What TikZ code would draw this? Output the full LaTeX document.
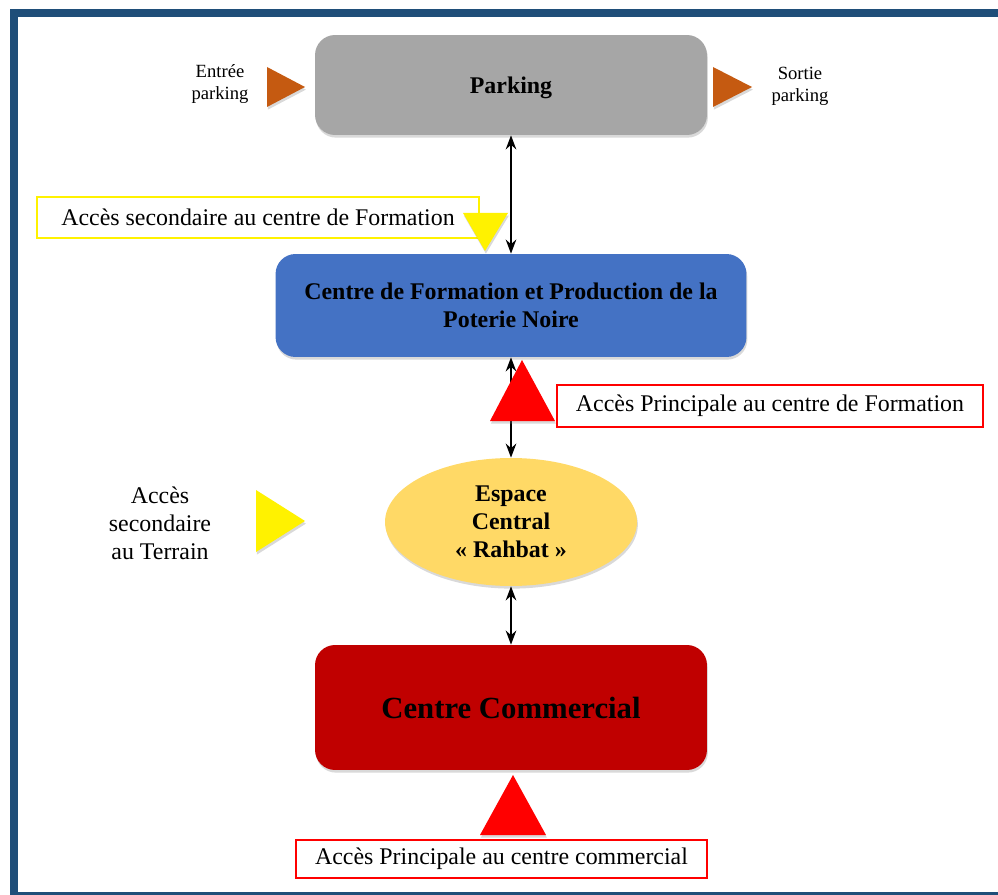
\documentclass[tikz,border=0pt]{standalone}
\usepackage{fontspec}
\setmainfont{Liberation Serif}
\usepackage{tikz}
\usetikzlibrary{arrows.meta, positioning, shapes.geometric, shadows}

\definecolor{frameblue}{RGB}{31,78,121}
\definecolor{parkgray}{RGB}{166,166,166}
\definecolor{formblue}{RGB}{68,114,196}
\definecolor{rahbatyellow}{RGB}{255,217,102}
\definecolor{commred}{RGB}{192,0,0}
\definecolor{accorange}{RGB}{197,90,17}

\begin{document}
\begin{tikzpicture}[x=0.02cm, y=-0.02cm, >={Stealth[length=8pt, width=6pt]},
  soft/.style={drop shadow={opacity=0.3, shadow xshift=0.5pt, shadow yshift=-1.5pt}},
  zone/.style={soft, rounded corners=0.4cm, align=center, inner sep=0pt,
    font=\bfseries\fontsize{13.6}{16.3}\selectfont},
  accbox/.style={draw, line width=0.8pt, minimum height=0.82cm, inner sep=0pt,
    font=\fontsize{13.6}{16.3}\selectfont},
  lbl/.style={align=center, font=\fontsize{13.6}{15.9}\selectfont},
  link/.style={<->, line width=1.1pt}]
  \useasboundingbox (0,0) rectangle (998,895);

  % frame
  \fill[frameblue] (10,9) rectangle (998,17);
  \fill[frameblue] (10,9) rectangle (18,895);
  \fill[frameblue] (10,892) rectangle (998,895);

  % zones
  \node[zone, fill=parkgray, minimum width=7.84cm, minimum height=2cm, text depth=0pt] (parking) at (511,85) {Parking};
  \node[zone, fill=formblue, minimum width=9.42cm, minimum height=2.06cm] (formation) at (511,305.5)
    {Centre de Formation et Production de la\\Poterie Noire};
  \node[soft, ellipse, fill=rahbatyellow, minimum width=5.04cm, minimum height=2.56cm, inner sep=0pt,
    align=center, font=\bfseries\fontsize{13.6}{15.9}\selectfont] (rahbat) at (511,522)
    {Espace\\Central\\« Rahbat »};
  \node[zone, fill=commred, minimum width=7.84cm, minimum height=2.5cm,
    font=\bfseries\fontsize{17.5}{20}\selectfont] (commercial) at (511,707.5) {Centre Commercial};

  \draw[link] (parking.south) -- (formation.north);
  \draw[link] (formation.south) -- (rahbat.north);
  \draw[link] (rahbat.south) -- (commercial.north);

  % acces
  \node[align=center, font=\fontsize{10.6}{12.5}\selectfont] (entree) at (220,84) {Entrée\\parking};
  \node[align=center, font=\fontsize{10.6}{12.5}\selectfont] (sortie) at (800,86) {Sortie\\parking};
  \fill[accorange, soft] (267,67) -- (267,107) -- (305,87) -- cycle;
  \fill[accorange, soft] (713,67) -- (713,107) -- (752,87) -- cycle;

  \node[accbox, draw=yellow, minimum width=8.84cm] (secFormation) at (258,217.5)
    {Accès secondaire au centre de Formation};
  \fill[yellow, soft] (463,213) -- (508,213) -- (485,251) -- cycle;

  \node[accbox, draw=red, minimum width=8.52cm, minimum height=0.84cm] (prinFormation) at (770,406)
    {Accès Principale au centre de Formation};
  \fill[red, soft] (490,421) -- (555,421) -- (522,360) -- cycle;

  \node[lbl] (secTerrain) at (160,523) {Accès\\secondaire\\au Terrain};
  \fill[yellow, soft] (256,490) -- (256,552) -- (305,521) -- cycle;

  \fill[red, soft] (480,835) -- (546,835) -- (513,775) -- cycle;
  \node[accbox, draw=red, minimum width=8.22cm, minimum height=0.76cm] (prinCommercial) at (501.5,859)
    {Accès Principale au centre commercial};
\end{tikzpicture}
\end{document}
